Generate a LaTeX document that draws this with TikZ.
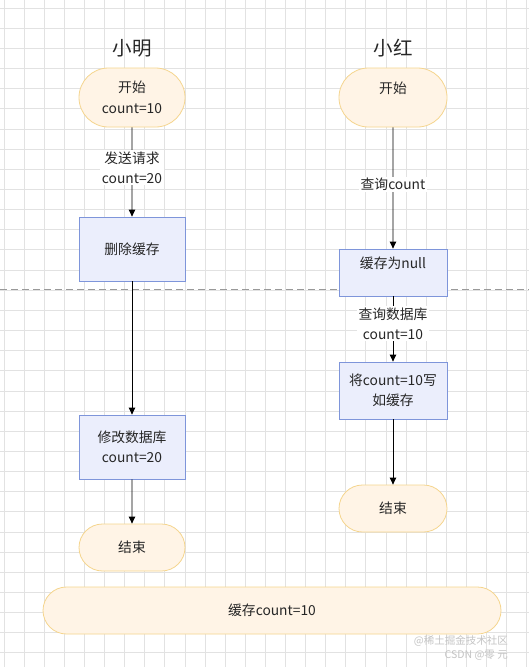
\documentclass[tikz,border=0pt]{standalone}
\usepackage{fontspec}
\setmainfont{Noto Sans CJK SC}
\usetikzlibrary{arrows.meta,shapes.misc}
\definecolor{gridc}{HTML}{E2E2E2}
\definecolor{termfill}{HTML}{FFF4E6}
\definecolor{termdraw}{HTML}{F5D58E}
\definecolor{procfill}{HTML}{EBEEFC}
\definecolor{procdraw}{HTML}{7E95DA}
\definecolor{wm}{HTML}{C4C4C4}
\tikzset{
  base/.style={font=\fontsize{13.8}{20.5}\selectfont, align=center, inner sep=0pt, text=black!85},
  term/.style={base, rounded rectangle, draw=termdraw, fill=termfill, line width=0.8pt},
  proc/.style={base, rectangle, draw=procdraw, fill=procfill, line width=0.8pt},
  title/.style={font=\fontsize{19.5}{22}\selectfont, text=black!85},
  arr/.style={-{Triangle[width=6.5pt,length=7pt]}, line width=0.9pt, black},
  lbl/.style={base, fill=white, inner sep=1.5pt},
  wmark/.style={font=\fontsize{10.5}{12}\selectfont, text=wm, anchor=east, inner sep=0pt}
}
\begin{document}
\begin{tikzpicture}[x=1pt,y=-1pt]
\useasboundingbox (0,0) rectangle (529,667);
\fill[white] (0,0) rectangle (529,667);
% grid
\foreach \i in {0,...,26} \draw[gridc, line width=0.7pt] ({4+20.1*\i},0) -- ({4+20.1*\i},667);
\foreach \j in {0,...,33} \draw[gridc, line width=0.7pt] (0,{8+20.15*\j}) -- (529,{8+20.15*\j});
% dashed separator
\draw[black!40, line width=0.8pt, dash pattern=on 7pt off 4pt] (0,289) -- (529,289);

% titles
\node[title] (t1) at (132,48) {小明};
\node[title] (t2) at (393,48) {小红};

% left column
\node[term, minimum width=106pt, minimum height=59pt] (s1) at (132,97.5) {开始\\count=10};
\node[proc, minimum width=106pt, minimum height=64pt] (d1) at (132,249) {删除缓存};
\node[proc, minimum width=106pt, minimum height=64pt] (m1) at (132,447) {修改数据库\\count=20};
\node[term, minimum width=106pt, minimum height=47pt] (e1) at (132,547.5) {结束};

% right column
\node[term, minimum width=108pt, minimum height=59pt] (s2) at (393,97.5) {开始\\\mbox{}};
\node[proc, minimum width=108pt, minimum height=47pt] (n2) at (393,272.5) {缓存为null\\\mbox{}};
\node[proc, minimum width=108pt, minimum height=57pt] (w2) at (393,390.5) {将count=10写\\如缓存};
\node[term, minimum width=108pt, minimum height=47pt] (e2) at (393,508.5) {结束};

% bottom
\node[term, minimum width=458pt, minimum height=47pt] (c) at (272,610.5) {缓存count=10};

% connectors
\draw[arr] (s1) -- node[lbl, pos=0.45] {发送请求\\count=20} (d1);
\draw[arr] (d1) -- (m1);
\draw[arr] (m1) -- (e1);
\draw[arr] (s2) -- node[lbl, pos=0.47] {查询count} (n2);
\draw[arr] (n2) -- node[lbl, pos=0.42] {查询数据库\\count=10} (w2);
\draw[arr] (w2) -- (e2);

% watermarks
\node[wmark] (wm1) at (508,641) {@稀土掘金技术社区};
\node[wmark] (wm2) at (508,655) {CSDN @零 元};
\end{tikzpicture}
\end{document}
